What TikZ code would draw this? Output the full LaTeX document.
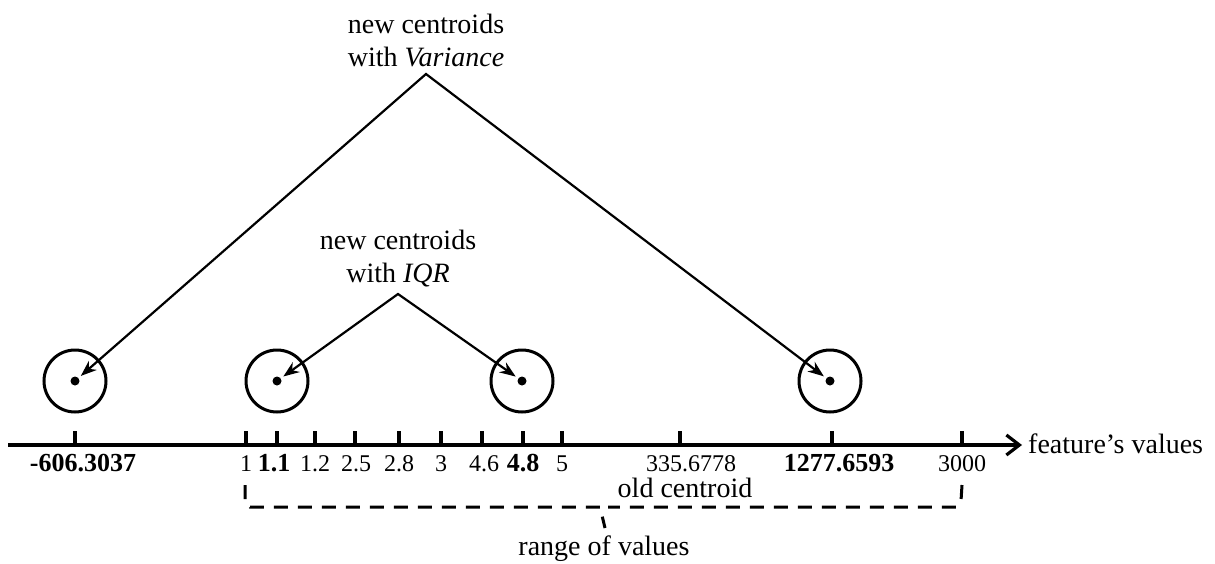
\documentclass[tikz,border=0pt]{standalone}
\usepackage{fontspec}
\setmainfont{Liberation Serif}
\usetikzlibrary{arrows.meta}

\begin{document}
\begin{tikzpicture}[x=1pt,y=-1pt,
  txt/.style={font=\fontsize{28}{33}\selectfont, inner sep=0, anchor=base},
  num/.style={font=\fontsize{24}{28}\selectfont, inner sep=0, anchor=base},
  bnum/.style={font=\fontsize{26}{30}\selectfont\bfseries, inner sep=0, anchor=base},
  tickmark/.style={line width=3.2pt},
  axisline/.style={line width=3.2pt, -{Straight Barb[length=13pt,width=20pt]}},
  ring/.style={circle, draw, line width=3pt, minimum size=62pt, inner sep=0},
  dot/.style={circle, fill, minimum size=9pt, inner sep=0},
  pointers/.style={line width=2.2pt,
    {Stealth[length=16pt,width=12pt]}-{Stealth[length=16pt,width=12pt]},
    shorten <=3pt, shorten >=3pt},
  rangebrace/.style={line width=3pt, dash pattern=on 14pt off 10pt}
]
\useasboundingbox (0,0) rectangle (1215,563);

% feature axis
\coordinate (ax0) at (8,445);
\coordinate (ax1) at (1022,445);
\draw[axisline] (ax0) -- (ax1);
\node[txt, anchor=base west] (feat) at (1028,453) {feature’s values};

% tick marks
\foreach \n/\x in {a/75,b/246,c/277,d/315,e/355,f/399,g/441,h/482,i/523,j/562,k/680,l/832,m/962}{
  \coordinate (t\n) at (\x,445);
  \draw[tickmark] (t\n) -- ++(0,-14);
}

% tick labels
\node[bnum] (la) at (83,471) {-606.3037};
\node[num]  (lb) at (246,471) {1};
\node[bnum] (lc) at (274,471) {1.1};
\node[num]  (ld) at (315,471) {1.2};
\node[num]  (le) at (356,471) {2.5};
\node[num]  (lf) at (399,471) {2.8};
\node[num]  (lg) at (441,471) {3};
\node[num]  (lh) at (484,471) {4.6};
\node[bnum] (li) at (523,471) {4.8};
\node[num]  (lj) at (562,471) {5};
\node[num]  (lk) at (691,471) {335.6778};
\node[bnum] (ll) at (839,471) {1277.6593};
\node[num]  (lm) at (962,471) {3000};
\node[txt]  (old) at (685,497) {old centroid};

% centroids
\node[ring] (r1) at (75,381) {};
\node[ring] (r2) at (277,381) {};
\node[ring] (r3) at (522,381) {};
\node[ring] (r4) at (830,381) {};
\node[dot] (d1) at (75,381) {};
\node[dot] (d2) at (277,381) {};
\node[dot] (d3) at (522,381) {};
\node[dot] (d4) at (830,381) {};

% variance centroids
\node[txt] (v1) at (426,33) {new centroids};
\node[txt] (v2) at (426,66) {with \textit{Variance}};
\coordinate (vtop) at (426,74);
\draw[pointers] (d1) -- (vtop) -- (d4);

% IQR centroids
\node[txt] (q1) at (398,249) {new centroids};
\node[txt] (q2) at (398,282) {with \textit{IQR}};
\coordinate (qtop) at (398,294);
\draw[pointers] (d2) -- (qtop) -- (d3);

% range of values
\coordinate (bl) at (245,485);
\coordinate (br) at (962,485);
\coordinate (bm) at (605,528);
\draw[rangebrace] (bl) -- (245,502) -- (250,507) -- (600,507) -- (bm);
\draw[rangebrace] (br) -- (961,501) -- (956,507) -- (608,507);
\node[txt] (range) at (604,555) {range of values};
\end{tikzpicture}
\end{document}
